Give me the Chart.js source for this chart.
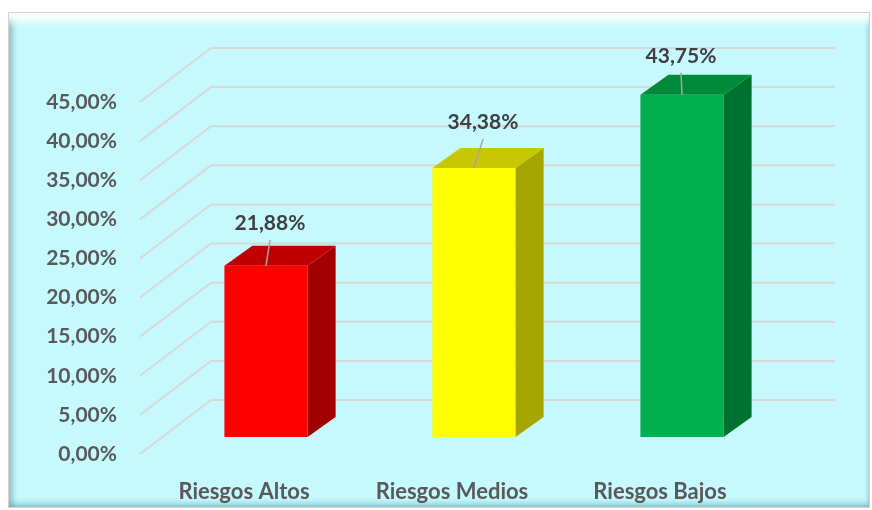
<!DOCTYPE html>
<html>
<head>
<meta charset="utf-8">
<script src="https://cdn.jsdelivr.net/npm/chart.js@4"></script>
<style>
  html, body { margin: 0; padding: 0; background: #fff; }
  .wrap { position: relative; width: 872px; height: 510px; }
  .frame {
    position: absolute; left: 8px; top: 12px; width: 862px; height: 496px;
    box-sizing: border-box;
    background: #C5F9FD;
    border: 1px solid #D2D2D2;
    box-shadow: inset 0 14px 8px -5px rgba(255,255,255,0.95),
                inset 6px 0 6px -3px rgba(70,130,140,0.55),
                inset 0 -6px 6px -3px rgba(70,130,140,0.45),
                inset -3px 0 4px -2px rgba(70,130,140,0.35);
  }
  canvas { position: absolute; left: 0; top: 0; }
</style>
</head>
<body>
<div class="wrap">
  <div class="frame"></div>
  <canvas id="chartRiesgos" width="872" height="510"></canvas>
</div>
<script>
const categorias = ["Riesgos Altos", "Riesgos Medios", "Riesgos Bajos"];
const porcentajes = [21.88, 34.38, 43.75];
const ticksY = [0, 5, 10, 15, 20, 25, 30, 35, 40, 45];

const frente = ["#FF0000", "#FFFF00", "#00B050"];
const lado = ["#A00000", "#A6A600", "#00722F"];
const tapa = ["#C00000", "#C8C800", "#008A3A"];

const fmt = (v) => v.toFixed(2).replace(".", ",") + "%";
const FONT = "Lato, 'Open Sans', sans-serif";

// fake 3d: bars sit a bit behind the axis plane, walls further back
const barras3d = {
  id: "barras3d",
  beforeDatasetsDraw(chart, args, opts) {
    const ctx = chart.ctx;
    const ys = chart.scales.y;
    const ca = chart.chartArea;
    ctx.save();
    ctx.strokeStyle = "#D8D8D8";
    ctx.lineWidth = 2;
    ticksY.forEach((v) => {
      const y = ys.getPixelForValue(v);
      ctx.beginPath();
      ctx.moveTo(ca.left, y);
      ctx.lineTo(ca.left + opts.pared.dx, y + opts.pared.dy);
      ctx.lineTo(ca.right + opts.pared.dx, y + opts.pared.dy);
      ctx.stroke();
    });
    ctx.restore();
    ctx.save();
    ctx.translate(opts.barra.dx, opts.barra.dy);
  },
  afterDatasetsDraw(chart, args, opts) {
    const ctx = chart.ctx;
    const meta = chart.getDatasetMeta(0);
    const d = opts.fondo;
    meta.data.forEach((bar, i) => {
      const l = bar.x - bar.width / 2;
      const r = bar.x + bar.width / 2;
      const t = bar.y;
      const b = bar.base;
      ctx.fillStyle = lado[i];
      ctx.beginPath();
      ctx.moveTo(r, t);
      ctx.lineTo(r + d.dx, t + d.dy);
      ctx.lineTo(r + d.dx, b + d.dy);
      ctx.lineTo(r, b);
      ctx.closePath();
      ctx.fill();
      ctx.fillStyle = tapa[i];
      ctx.beginPath();
      ctx.moveTo(l, t);
      ctx.lineTo(l + d.dx, t + d.dy);
      ctx.lineTo(r + d.dx, t + d.dy);
      ctx.lineTo(r, t);
      ctx.closePath();
      ctx.fill();
    });
    ctx.restore();

    // data labels with leader lines
    ctx.save();
    ctx.font = "bold 21px " + FONT;
    ctx.textAlign = "center";
    ctx.textBaseline = "middle";
    meta.data.forEach((bar, i) => {
      const bx = bar.x + opts.barra.dx;
      const by = bar.y + opts.barra.dy;
      const off = opts.etiquetas[i];
      const lx = bx + off[0];
      const ly = by + off[1];
      ctx.strokeStyle = "#A6A6A6";
      ctx.lineWidth = 1.5;
      ctx.beginPath();
      ctx.moveTo(lx, ly + 17);
      ctx.lineTo(bx, by);
      ctx.stroke();
      ctx.fillStyle = "#404040";
      ctx.fillText(fmt(porcentajes[i]), lx, ly);
    });
    ctx.restore();
  },
};

new Chart(document.querySelector("#chartRiesgos"), {
  type: "bar",
  data: {
    labels: categorias,
    datasets: [
      {
        label: "Riesgos",
        data: porcentajes,
        backgroundColor: frente,
        borderWidth: 0,
        barPercentage: 0.8,
        categoryPercentage: 0.5,
        clip: false,
      },
    ],
  },
  options: {
    responsive: false,
    animation: false,
    layout: {
      padding: { top: 102, right: 108, left: 0, bottom: 0 },
    },
    plugins: {
      legend: { display: false },
      tooltip: { enabled: false },
      barras3d: {
        pared: { dx: 71, dy: -54 },
        barra: { dx: 22, dy: -17 },
        fondo: { dx: 28, dy: -20 },
        etiquetas: [[4, -43], [9, -46], [-1, -39]],
      },
    },
    scales: {
      x: {
        grid: { display: false },
        border: { display: false },
        ticks: {
          color: "#595959",
          padding: 17,
          font: { family: FONT, size: 22, weight: "bold" },
        },
        afterFit(scale) {
          scale.height = 56;
        },
      },
      y: {
        min: 0,
        max: 45,
        grid: { display: false },
        border: { display: false },
        ticks: {
          stepSize: 5,
          color: "#595959",
          padding: 15,
          font: { family: FONT, size: 21, weight: "bold" },
          callback: (v) => fmt(v),
        },
        afterFit(scale) {
          scale.width = 140;
        },
      },
    },
  },
  plugins: [barras3d],
});
</script>
</body>
</html>
